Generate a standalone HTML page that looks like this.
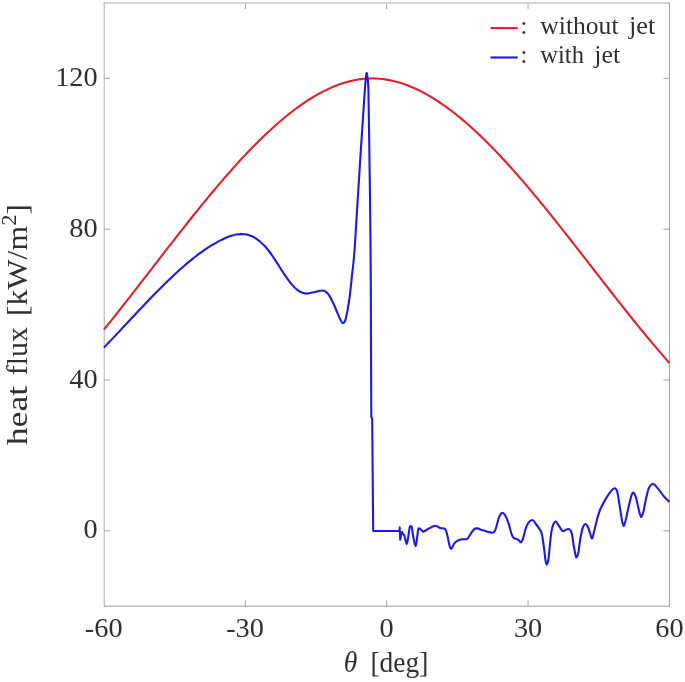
<!DOCTYPE html>
<html><head><meta charset="utf-8"><title>heat flux</title>
<style>
html,body{margin:0;padding:0;background:#fff;}
svg{display:block;filter:blur(0.25px);}
text{font-family:"Liberation Serif",serif;fill:#303030;}
</style></head>
<body>
<svg width="685" height="682" viewBox="0 0 685 682">
<rect width="685" height="682" fill="#fff"/>
<g stroke="#8c8c8c" stroke-width="0.8" fill="none"><line x1="245.35" y1="606.20" x2="245.35" y2="600.20"/><line x1="245.35" y1="3.00" x2="245.35" y2="9.00"/><line x1="386.70" y1="606.20" x2="386.70" y2="600.20"/><line x1="386.70" y1="3.00" x2="386.70" y2="9.00"/><line x1="528.05" y1="606.20" x2="528.05" y2="600.20"/><line x1="528.05" y1="3.00" x2="528.05" y2="9.00"/><line x1="104.00" y1="530.80" x2="110.00" y2="530.80"/><line x1="669.40" y1="530.80" x2="663.40" y2="530.80"/><line x1="104.00" y1="380.00" x2="110.00" y2="380.00"/><line x1="669.40" y1="380.00" x2="663.40" y2="380.00"/><line x1="104.00" y1="229.20" x2="110.00" y2="229.20"/><line x1="669.40" y1="229.20" x2="663.40" y2="229.20"/><line x1="104.00" y1="78.40" x2="110.00" y2="78.40"/><line x1="669.40" y1="78.40" x2="663.40" y2="78.40"/></g>
<g fill="none">
<line x1="104.3" y1="2.3" x2="104.3" y2="606.6" stroke="#c4c4c4" stroke-width="1.4"/>
<line x1="103.6" y1="3.0" x2="669.8" y2="3.0" stroke="#c4c4c4" stroke-width="1.4"/>
<line x1="669.4" y1="3.0" x2="669.4" y2="606.8000000000001" stroke="#8c8c8c" stroke-width="0.85"/>
<line x1="104.0" y1="606.2" x2="669.4" y2="606.2" stroke="#8c8c8c" stroke-width="0.85"/>
</g>
<path d="M104.00,329.46 L106.99,325.77 L109.98,322.05 L112.97,318.31 L115.97,314.56 L118.96,310.78 L121.95,306.99 L124.94,303.19 L127.93,299.37 L130.92,295.55 L133.92,291.71 L136.91,287.86 L139.90,284.01 L142.89,280.15 L145.88,276.28 L148.87,272.41 L151.86,268.54 L154.86,264.67 L157.85,260.81 L160.84,256.94 L163.83,253.08 L166.82,249.22 L169.81,245.38 L172.81,241.53 L175.80,237.70 L178.79,233.88 L181.78,230.08 L184.77,226.29 L187.76,222.51 L190.75,218.75 L193.75,215.01 L196.74,211.29 L199.73,207.59 L202.72,203.91 L205.71,200.26 L208.70,196.63 L211.70,193.03 L214.69,189.46 L217.68,185.91 L220.67,182.40 L223.66,178.92 L226.65,175.48 L229.64,172.07 L232.64,168.70 L235.63,165.37 L238.62,162.08 L241.61,158.82 L244.60,155.61 L247.59,152.45 L250.59,149.33 L253.58,146.26 L256.57,143.24 L259.56,140.26 L262.55,137.34 L265.54,134.47 L268.53,131.66 L271.53,128.90 L274.52,126.20 L277.51,123.55 L280.50,120.97 L283.49,118.45 L286.48,115.99 L289.48,113.59 L292.47,111.26 L295.46,109.00 L298.45,106.80 L301.44,104.68 L304.43,102.63 L307.42,100.65 L310.42,98.74 L313.41,96.91 L316.40,95.16 L319.39,93.49 L322.38,91.89 L325.37,90.38 L328.37,88.95 L331.36,87.60 L334.35,86.34 L337.34,85.17 L340.33,84.09 L343.32,83.09 L346.31,82.19 L349.31,81.38 L352.30,80.66 L355.29,80.04 L358.28,79.52 L361.27,79.10 L364.26,78.77 L367.26,78.55 L370.25,78.43 L373.24,78.42 L376.23,78.51 L379.22,78.70 L382.21,78.99 L385.20,79.39 L388.20,79.88 L391.19,80.47 L394.18,81.16 L397.17,81.94 L400.16,82.81 L403.15,83.78 L406.14,84.83 L409.14,85.98 L412.13,87.21 L415.12,88.53 L418.11,89.93 L421.10,91.42 L424.09,92.98 L427.09,94.63 L430.08,96.36 L433.07,98.16 L436.06,100.04 L439.05,102.00 L442.04,104.02 L445.03,106.12 L448.03,108.29 L451.02,110.53 L454.01,112.83 L457.00,115.21 L459.99,117.64 L462.98,120.14 L465.98,122.70 L468.97,125.32 L471.96,128.00 L474.95,130.74 L477.94,133.53 L480.93,136.38 L483.92,139.27 L486.92,142.23 L489.91,145.23 L492.90,148.28 L495.89,151.38 L498.88,154.52 L501.87,157.71 L504.87,160.94 L507.86,164.21 L510.85,167.52 L513.84,170.88 L516.83,174.26 L519.82,177.69 L522.81,181.15 L525.81,184.64 L528.80,188.16 L531.79,191.72 L534.78,195.30 L537.77,198.91 L540.76,202.54 L543.76,206.20 L546.75,209.88 L549.74,213.59 L552.73,217.31 L555.72,221.06 L558.71,224.82 L561.70,228.59 L564.70,232.38 L567.69,236.19 L570.68,240.00 L573.67,243.82 L576.66,247.66 L579.65,251.50 L582.65,255.35 L585.64,259.20 L588.63,263.05 L591.62,266.90 L594.61,270.76 L597.60,274.61 L600.59,278.46 L603.59,282.31 L606.58,286.15 L609.57,289.99 L612.56,293.81 L615.55,297.63 L618.54,301.43 L621.54,305.22 L624.53,309.00 L627.52,312.76 L630.51,316.50 L633.50,320.23 L636.49,323.93 L639.48,327.62 L642.48,331.28 L645.47,334.92 L648.46,338.53 L651.45,342.11 L654.44,345.67 L657.43,349.19 L660.43,352.69 L663.42,356.15 L666.41,359.57 L669.40,362.96" fill="none" stroke="#e3202b" stroke-width="2.1" stroke-linejoin="round"/>
<path d="M104.00,347.52 C104.67,346.82 106.67,344.74 108.01,343.34 C109.35,341.94 110.69,340.54 112.02,339.12 C113.36,337.71 114.70,336.30 116.04,334.88 C117.37,333.46 118.71,332.03 120.05,330.60 C121.39,329.18 122.72,327.75 124.06,326.32 C125.40,324.89 126.74,323.45 128.07,322.02 C129.41,320.59 130.75,319.16 132.09,317.73 C133.42,316.30 134.76,314.87 136.10,313.44 C137.44,312.02 138.77,310.60 140.11,309.18 C141.45,307.76 142.79,306.35 144.12,304.94 C145.46,303.53 146.80,302.13 148.13,300.73 C149.47,299.34 150.81,297.95 152.15,296.57 C153.48,295.19 154.82,293.82 156.16,292.46 C157.50,291.09 158.83,289.74 160.17,288.40 C161.51,287.06 162.85,285.73 164.18,284.42 C165.52,283.10 166.86,281.80 168.20,280.51 C169.53,279.22 170.87,277.94 172.21,276.68 C173.55,275.42 174.88,274.18 176.22,272.95 C177.56,271.72 178.90,270.51 180.23,269.32 C181.57,268.13 182.91,266.95 184.24,265.80 C185.58,264.64 186.92,263.51 188.26,262.39 C189.59,261.28 190.93,260.19 192.27,259.11 C193.61,258.04 194.94,257.00 196.28,255.97 C197.62,254.95 198.96,253.95 200.29,252.97 C201.63,251.99 202.97,251.04 204.31,250.12 C205.64,249.20 206.98,248.30 208.32,247.43 C209.66,246.56 210.99,245.72 212.33,244.91 C213.67,244.09 215.01,243.31 216.34,242.56 C217.68,241.81 219.02,241.08 220.36,240.40 C221.69,239.71 223.03,239.05 224.37,238.44 C225.70,237.83 227.04,237.26 228.38,236.76 C229.72,236.25 231.05,235.80 232.39,235.42 C233.73,235.05 235.07,234.73 236.40,234.51 C237.74,234.29 239.08,234.14 240.42,234.09 C241.75,234.05 243.09,234.09 244.43,234.25 C245.77,234.41 247.10,234.66 248.44,235.05 C249.78,235.44 251.12,235.94 252.45,236.57 C253.79,237.20 255.13,237.96 256.47,238.85 C257.80,239.74 259.14,240.76 260.48,241.92 C261.81,243.07 263.15,244.36 264.49,245.79 C265.83,247.21 267.16,248.78 268.50,250.48 C269.84,252.18 271.18,254.05 272.51,255.99 C273.85,257.93 275.19,260.04 276.53,262.12 C277.86,264.20 279.20,266.39 280.54,268.48 C281.88,270.58 283.21,272.72 284.55,274.70 C285.89,276.69 287.23,278.64 288.56,280.42 C289.90,282.20 291.24,283.89 292.58,285.37 C293.91,286.85 295.25,288.20 296.59,289.31 C297.93,290.41 298.90,291.29 300.60,292.00 C302.30,292.72 304.40,293.60 306.80,293.60 C309.20,293.60 312.43,292.52 315.00,292.00 C317.57,291.48 320.45,290.57 322.20,290.50 C323.95,290.43 324.40,290.87 325.50,291.60 C326.60,292.33 327.52,293.00 328.80,294.90 C330.08,296.80 331.73,299.93 333.20,303.00 C334.67,306.07 336.27,310.25 337.60,313.30 C338.93,316.35 340.27,319.65 341.20,321.30 C342.13,322.95 342.53,323.32 343.20,323.20 C343.87,323.08 344.43,322.98 345.20,320.60 C345.97,318.22 347.00,313.30 347.80,308.90 C348.60,304.50 349.27,300.07 350.00,294.20 C350.73,288.33 351.58,279.40 352.20,273.70 C352.82,268.00 353.20,265.62 353.70,260.00 C354.20,254.38 354.12,256.67 355.20,240.00 C356.28,223.33 358.67,183.90 360.20,160.00 C361.73,136.10 363.47,110.10 364.40,96.60 C365.33,83.10 365.43,82.93 365.80,79.00 C366.17,75.07 366.33,73.33 366.60,73.00 C366.87,72.67 367.10,74.28 367.40,77.00 C367.70,79.72 368.10,78.80 368.40,89.30 C368.70,99.80 368.85,114.88 369.20,140.00 C369.55,165.12 370.20,206.67 370.50,240.00 C370.80,273.33 370.87,310.50 371.00,340.00 C371.13,369.50 371.25,404.17 371.30,417.00 L372.20,418.50 L373.20,531.05 L399.70,531.05 L399.70,527.40 L400.20,539.80 C400.47,538.55 401.33,533.27 401.80,532.30 C402.27,531.33 402.55,533.38 403.00,534.00 C403.45,534.62 403.88,534.33 404.50,536.00 C405.12,537.67 406.05,544.00 406.70,544.00 C407.35,544.00 407.90,538.75 408.40,536.00 C408.90,533.25 409.30,529.17 409.70,527.50 C410.10,525.83 410.43,526.00 410.80,526.00 C411.17,526.00 411.52,525.83 411.90,527.50 C412.28,529.17 412.50,532.93 413.10,536.00 C413.70,539.07 414.82,545.73 415.50,545.90 C416.18,546.07 416.75,539.73 417.20,537.00 C417.65,534.27 417.85,530.95 418.20,529.50 C418.55,528.05 418.83,528.25 419.30,528.30 C419.77,528.35 420.30,529.25 421.00,529.80 C421.70,530.35 422.17,531.82 423.50,531.60 C424.83,531.38 427.05,529.47 429.00,528.50 C430.95,527.53 433.37,525.88 435.20,525.80 C437.03,525.72 438.35,527.45 440.00,528.00 C441.65,528.55 443.88,527.88 445.10,529.10 C446.32,530.32 446.57,532.57 447.30,535.30 C448.03,538.03 448.82,543.25 449.50,545.50 C450.18,547.75 450.67,549.05 451.40,548.80 C452.13,548.55 453.00,545.28 453.90,544.00 C454.80,542.72 455.47,541.88 456.80,541.10 C458.13,540.32 460.20,539.67 461.90,539.30 C463.60,538.93 465.53,539.82 467.00,538.90 C468.47,537.98 469.48,535.43 470.70,533.80 C471.92,532.17 473.22,530.00 474.30,529.10 C475.38,528.20 475.62,528.15 477.20,528.40 C478.78,528.65 481.23,529.87 483.80,530.60 C486.37,531.33 490.65,533.00 492.60,532.80 C494.55,532.60 494.53,531.67 495.50,529.40 C496.47,527.13 497.55,521.75 498.40,519.20 C499.25,516.65 499.87,515.15 500.60,514.10 C501.33,513.05 501.95,512.53 502.80,512.90 C503.65,513.27 504.73,514.52 505.70,516.30 C506.67,518.08 507.63,520.68 508.60,523.60 C509.57,526.52 510.65,531.42 511.50,533.80 C512.35,536.18 512.85,537.05 513.70,537.90 C514.55,538.75 515.75,538.48 516.60,538.90 C517.45,539.32 518.07,539.83 518.80,540.40 C519.53,540.97 520.27,542.67 521.00,542.30 C521.73,541.93 522.47,540.35 523.20,538.20 C523.93,536.05 524.55,531.97 525.40,529.40 C526.25,526.83 527.12,524.37 528.30,522.80 C529.48,521.23 531.30,519.88 532.50,520.00 C533.70,520.12 534.35,522.02 535.50,523.50 C536.65,524.98 538.35,527.20 539.40,528.90 C540.45,530.60 541.05,530.62 541.80,533.70 C542.55,536.78 543.28,542.97 543.90,547.40 C544.52,551.83 545.02,557.47 545.50,560.30 C545.98,563.13 546.32,564.53 546.80,564.40 C547.28,564.27 547.90,562.60 548.40,559.50 C548.90,556.40 549.28,550.50 549.80,545.80 C550.32,541.10 550.88,534.93 551.50,531.30 C552.12,527.67 552.78,525.62 553.50,524.00 C554.22,522.38 554.93,521.33 555.80,521.60 C556.67,521.87 557.73,524.20 558.70,525.60 C559.67,527.00 560.80,529.05 561.60,530.00 C562.40,530.95 562.77,531.35 563.50,531.30 C564.23,531.25 565.05,530.05 566.00,529.70 C566.95,529.35 568.27,528.67 569.20,529.20 C570.13,529.73 570.88,530.40 571.60,532.90 C572.32,535.40 572.83,540.43 573.50,544.20 C574.17,547.97 575.05,553.35 575.60,555.50 C576.15,557.65 576.33,557.63 576.80,557.10 C577.27,556.57 577.78,555.53 578.40,552.30 C579.02,549.07 579.75,541.87 580.50,537.70 C581.25,533.53 582.10,529.58 582.90,527.30 C583.70,525.02 584.50,524.13 585.30,524.00 C586.10,523.87 586.88,524.88 587.70,526.50 C588.52,528.12 589.48,531.70 590.20,533.70 C590.92,535.70 591.35,538.87 592.00,538.50 C592.65,538.13 593.22,534.83 594.10,531.50 C594.98,528.17 596.28,522.17 597.30,518.50 C598.32,514.83 598.73,512.85 600.20,509.50 C601.67,506.15 604.30,501.47 606.10,498.40 C607.90,495.33 609.58,492.78 611.00,491.10 C612.42,489.42 613.58,488.30 614.60,488.30 C615.62,488.30 616.37,488.88 617.10,491.10 C617.83,493.32 618.27,497.17 619.00,501.60 C619.73,506.03 620.77,513.67 621.50,517.70 C622.23,521.73 622.73,525.25 623.40,525.80 C624.07,526.35 624.62,524.22 625.50,521.00 C626.38,517.78 627.68,510.80 628.70,506.50 C629.72,502.20 630.80,497.50 631.60,495.20 C632.40,492.90 632.77,492.30 633.50,492.70 C634.23,493.10 635.18,495.03 636.00,497.60 C636.82,500.17 637.68,505.15 638.40,508.10 C639.12,511.05 639.77,513.88 640.30,515.30 C640.83,516.72 641.07,517.27 641.60,516.60 C642.13,515.93 642.75,514.33 643.50,511.30 C644.25,508.27 645.20,502.30 646.10,498.40 C647.00,494.50 647.90,490.27 648.90,487.90 C649.90,485.53 651.17,484.73 652.10,484.20 C653.03,483.67 653.28,483.68 654.50,484.70 C655.72,485.72 657.78,488.28 659.40,490.30 C661.02,492.32 662.53,494.87 664.20,496.80 C665.87,498.73 668.53,501.05 669.40,501.90" fill="none" stroke="#1e1ae2" stroke-width="2.1" stroke-linejoin="round" stroke-linecap="butt"/>
<g font-size="28.3"><text x="103.70" y="636.9" text-anchor="middle">-60</text><text x="245.05" y="636.9" text-anchor="middle">-30</text><text x="386.70" y="636.9" text-anchor="middle">0</text><text x="528.05" y="636.9" text-anchor="middle">30</text><text x="669.40" y="636.9" text-anchor="middle">60</text><text x="97.6" y="538.40" text-anchor="end">0</text><text x="97.6" y="387.60" text-anchor="end">40</text><text x="97.6" y="236.80" text-anchor="end">80</text><text x="97.6" y="86.00" text-anchor="end">120</text></g>
<g font-size="30">
<text x="343.8" y="672" textLength="13.6" lengthAdjust="spacingAndGlyphs" font-style="italic">θ</text>
<text x="370.4" y="672" textLength="58" lengthAdjust="spacingAndGlyphs">[deg]</text>
<g transform="translate(27.4,445.3) rotate(-90)">
<text x="0" y="0" textLength="59.6" lengthAdjust="spacingAndGlyphs">heat</text>
<text x="70.1" y="0" textLength="48" lengthAdjust="spacingAndGlyphs">flux</text>
<text x="129.3" y="0" textLength="111.9" lengthAdjust="spacingAndGlyphs">[kW/m<tspan font-size="21" dy="-11">2</tspan><tspan dy="11">]</tspan></text>
</g>
</g>
<line x1="490.5" y1="28.1" x2="517.7" y2="28.1" stroke="#e3202b" stroke-width="2.1"/>
<line x1="490.5" y1="57.5" x2="517.7" y2="57.5" stroke="#1e1ae2" stroke-width="2.1"/>
<g font-size="24.5">
<text x="520.4" y="33.8">:</text>
<text x="540.3" y="33.8" textLength="78.2" lengthAdjust="spacingAndGlyphs">without</text>
<text x="629" y="33.8" textLength="26.4" lengthAdjust="spacingAndGlyphs">jet</text>
<text x="520.4" y="63.2">:</text>
<text x="540.3" y="63.2" textLength="43.7" lengthAdjust="spacingAndGlyphs">with</text>
<text x="594.2" y="63.2" textLength="25.9" lengthAdjust="spacingAndGlyphs">jet</text>
</g>
</svg>
</body></html>
